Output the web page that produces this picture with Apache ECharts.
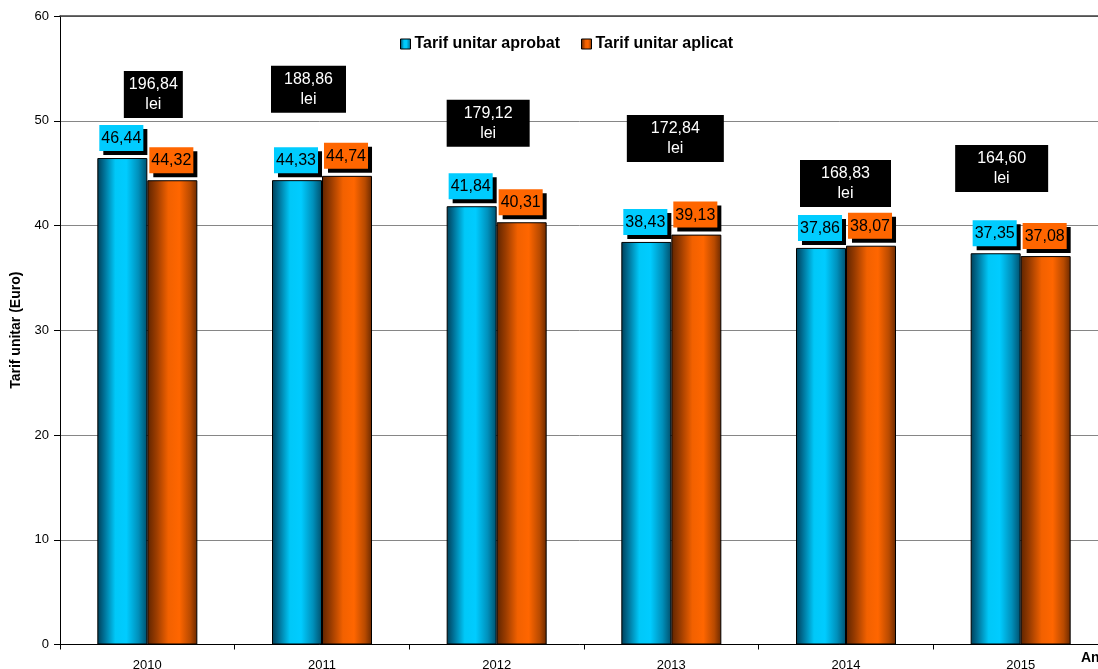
<!DOCTYPE html>
<html>
<head>
<meta charset="utf-8">
<script src="https://cdn.jsdelivr.net/npm/echarts@6/dist/echarts.min.js"></script>
<style>
html,body{margin:0;padding:0;background:#fff;}
#chart{width:1098px;height:669px;}
</style>
</head>
<body>
<div id="chart"></div>
<script>
// ---- data ----
const years = ['2010', '2011', '2012', '2013', '2014', '2015'];
const tarifAprobat = [46.44, 44.33, 41.84, 38.43, 37.86, 37.35];
const tarifAplicat = [44.32, 44.74, 40.31, 39.13, 38.07, 37.08];
const tarifLei = [196.84, 188.86, 179.12, 172.84, 168.83, 164.60];
const yTicks = [0, 10, 20, 30, 40, 50, 60];

// ---- layout of the "lei" annotation boxes (anchor height in axis units, x shift, box width) ----
const leiAnchorY = [52.5, 53.0, 49.75, 48.3, 44.0, 45.45];
const leiShiftX = [6, -13.5, -8.5, 4, -0.5, -19];
const leiBoxW = [59, 75, 83, 97, 91, 93];

const FONT = 'Arial, "Liberation Sans", sans-serif';
const fmt = v => v.toFixed(2).replace('.', ',');

function grad(stops) {
  return new echarts.graphic.LinearGradient(0, 0, 1, 0, stops);
}
const blueGrad = grad([
  {offset: 0, color: '#003f57'},
  {offset: 0.12, color: '#006a8f'},
  {offset: 0.36, color: '#00c8f8'},
  {offset: 0.58, color: '#00ccff'},
  {offset: 0.82, color: '#0090bb'},
  {offset: 1, color: '#004f6c'}
]);
const orangeGrad = grad([
  {offset: 0, color: '#5e2400'},
  {offset: 0.18, color: '#9a3c00'},
  {offset: 0.42, color: '#f26100'},
  {offset: 0.64, color: '#ff6600'},
  {offset: 0.86, color: '#b84a00'},
  {offset: 1, color: '#6a2900'}
]);

function valueLabel(bg) {
  return {
    show: true,
    position: 'top',
    distance: 7,
    offset: [-1, 0],
    formatter: p => fmt(p.value),
    fontFamily: FONT,
    fontSize: 16,
    color: '#000',
    backgroundColor: bg,
    padding: [4, 2, 3, 2],
    lineHeight: 19,
    shadowColor: '#000',
    shadowOffsetX: 4,
    shadowOffsetY: 4,
    shadowBlur: 0
  };
}

const leiData = years.map((y, i) => ({
  value: [i, leiAnchorY[i]],
  label: {
    offset: [leiShiftX[i], 0],
    width: leiBoxW[i],
    formatter: fmt(tarifLei[i]) + '\nlei'
  }
}));

const chart = echarts.init(document.getElementById('chart'));
chart.setOption({
  animation: false,
  backgroundColor: '#fff',
  textStyle: {fontFamily: FONT},
  legend: {
    data: ['Tarif unitar aprobat', 'Tarif unitar aplicat'],
    left: 395,
    top: 31,
    itemWidth: 10,
    itemHeight: 10,
    itemGap: 21,
    icon: 'rect',
    itemStyle: {borderColor: '#000', borderWidth: 1},
    textStyle: {fontFamily: FONT, fontSize: 16, fontWeight: 'bold', color: '#000', padding: [0, 0, 0, -1]}
  },
  grid: {left: 60, top: 16, width: 1048, height: 628.5, containLabel: false, outerBoundsMode: 'none'},
  xAxis: [{
    type: 'category',
    data: years,
    boundaryGap: true,
    axisLine: {lineStyle: {color: '#000', width: 1}},
    axisTick: {show: true, length: 5, lineStyle: {color: '#000'}},
    axisLabel: {color: '#000', fontSize: 13, fontFamily: FONT, margin: 14}
  }, {
    type: 'category',
    data: years,
    position: 'top',
    axisLine: {show: true, lineStyle: {color: '#404040', width: 1.5}},
    axisTick: {show: false},
    axisLabel: {show: false}
  }],
  yAxis: {
    type: 'value',
    min: yTicks[0],
    max: yTicks[yTicks.length - 1],
    interval: 10,
    name: 'Tarif unitar (Euro)',
    nameLocation: 'middle',
    nameGap: 30,
    nameTextStyle: {fontFamily: FONT, fontSize: 14, fontWeight: 'bold', color: '#000'},
    axisLine: {show: true, lineStyle: {color: '#000', width: 1}},
    axisTick: {show: true, length: 6, lineStyle: {color: '#000'}},
    axisLabel: {color: '#000', fontSize: 13, fontFamily: FONT, margin: 11},
    splitLine: {show: true, lineStyle: {color: '#868686', width: 1}}
  },
  series: [{
    name: 'Tarif unitar aprobat',
    type: 'bar',
    data: tarifAprobat,
    barWidth: 50,
    barGap: '0%',
    itemStyle: {color: blueGrad, borderColor: '#000', borderWidth: 1},
    label: valueLabel('#00ccff'),
    z: 3
  }, {
    name: 'Tarif unitar aplicat',
    type: 'bar',
    data: tarifAplicat,
    barWidth: 50,
    barGap: '0%',
    itemStyle: {color: orangeGrad, borderColor: '#000', borderWidth: 1},
    label: valueLabel('#ff6600'),
    z: 3
  }, {
    name: 'lei',
    type: 'scatter',
    data: leiData,
    symbolSize: 1,
    itemStyle: {color: 'rgba(0,0,0,0)', opacity: 1},
    z: 4,
    label: {
      show: true,
      position: 'inside',
      color: '#fff',
      opacity: 1,
      fontFamily: FONT,
      fontSize: 16,
      lineHeight: 20,
      align: 'center',
      backgroundColor: '#000',
      padding: [2, 0, 5, 0]
    }
  }],
  graphic: [{
    type: 'text',
    left: 1081,
    top: 651,
    style: {text: 'An', fill: '#000', font: 'bold 14px ' + FONT}
  }]
});
</script>
</body>
</html>
